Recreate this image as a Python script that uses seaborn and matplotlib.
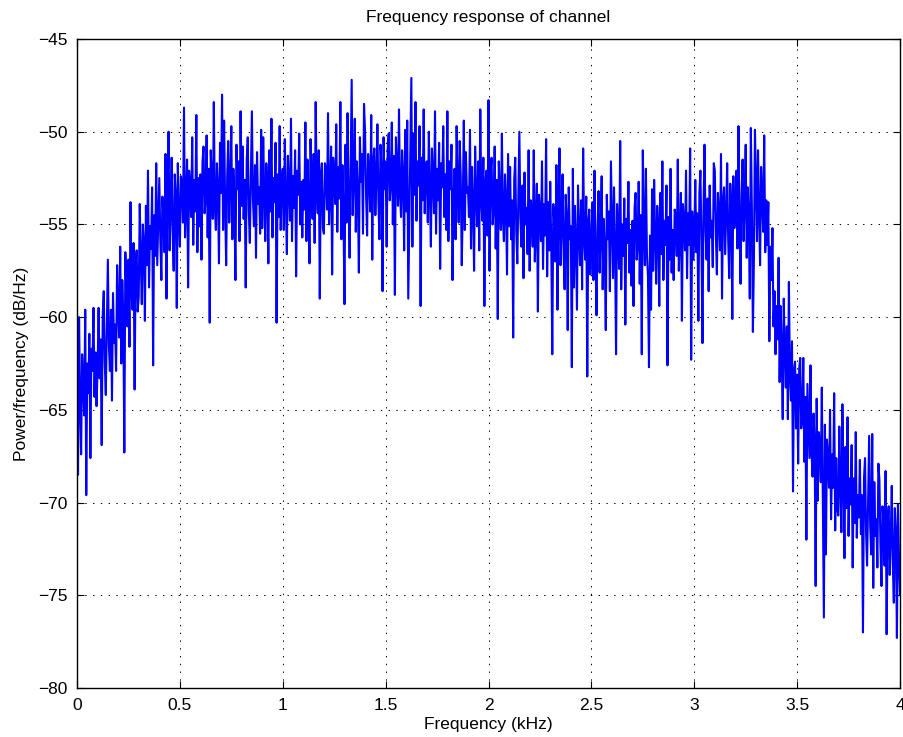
import numpy as np
import matplotlib
matplotlib.use("Agg")
import matplotlib.pyplot as plt
import seaborn as sns

# Power spectral density (dB/Hz), 801 samples spanning 0-4 kHz
psd_db = [
    -62.8, -68.5, -60.0, -64.6, -67.4, -62.0, -63.5, -65.3, -59.6, -69.6, -62.5, -64.1, -60.9, -67.6, -61.7, -62.9, -59.5, -64.3, -61.9, -64.8,
    -62.8, -59.5, -63.3, -61.2, -66.9, -59.9, -58.6, -62.5, -64.2, -60.4, -56.9, -61.5, -62.9, -59.6, -64.5, -58.7, -61.4, -60.4, -62.9, -57.2,
    -59.6, -61.1, -56.2, -62.5, -58.0, -60.0, -67.3, -56.5, -58.9, -60.5, -56.9, -61.6, -53.8, -58.6, -59.6, -56.0, -63.9, -57.1, -56.4, -59.7,
    -58.9, -53.9, -56.9, -59.3, -55.0, -56.0, -60.2, -54.0, -57.2, -52.1, -58.4, -55.1, -56.3, -53.0, -62.6, -54.5, -56.7, -51.7, -57.2, -54.8,
    -52.5, -55.8, -58.0, -53.5, -54.6, -56.5, -51.2, -59.0, -53.6, -50.0, -56.4, -54.3, -51.4, -55.5, -57.5, -52.3, -53.4, -59.5, -51.7, -54.5,
    -56.2, -52.4, -52.8, -54.9, -48.7, -55.7, -53.8, -51.5, -58.4, -52.1, -53.1, -54.6, -50.3, -56.1, -52.6, -54.3, -49.1, -56.5, -52.5, -55.1,
    -52.3, -56.9, -51.6, -50.8, -54.4, -53.6, -50.2, -55.7, -52.0, -60.3, -51.0, -52.7, -54.7, -48.4, -54.1, -55.3, -51.7, -53.1, -57.1, -50.6,
    -53.3, -48.0, -55.3, -49.4, -54.0, -57.2, -52.4, -50.5, -54.9, -52.8, -49.7, -55.8, -52.0, -53.7, -58.0, -50.7, -53.1, -51.6, -55.9, -48.9,
    -54.0, -50.8, -54.7, -52.6, -58.4, -51.5, -50.3, -54.3, -56.0, -52.3, -48.9, -53.6, -55.1, -51.8, -56.8, -51.1, -53.9, -53.0, -55.5, -49.9,
    -55.2, -50.3, -53.4, -55.9, -51.7, -52.8, -57.1, -51.0, -54.3, -49.3, -55.7, -52.5, -53.8, -50.6, -60.3, -52.3, -54.6, -49.7, -55.3, -53.0,
    -52.0, -55.3, -50.4, -53.7, -56.6, -51.3, -52.9, -54.8, -49.3, -55.9, -52.4, -54.1, -51.0, -57.8, -52.1, -53.4, -50.1, -55.0, -52.7, -55.7,
    -52.6, -54.2, -49.5, -55.9, -51.5, -53.6, -57.1, -50.4, -52.9, -54.7, -51.2, -56.0, -48.4, -53.3, -54.4, -51.0, -59.0, -52.3, -51.7, -55.2,
    -55.5, -51.7, -52.1, -54.2, -49.0, -55.0, -53.1, -50.8, -57.7, -51.4, -52.4, -53.9, -49.6, -55.4, -51.9, -53.6, -48.4, -55.8, -51.8, -54.4,
    -59.3, -50.7, -54.9, -49.0, -53.6, -56.8, -52.0, -47.2, -54.5, -52.4, -49.3, -55.4, -51.6, -53.3, -57.6, -50.3, -52.7, -51.2, -55.5, -48.5,
    -50.0, -53.4, -55.6, -51.2, -52.3, -54.3, -49.1, -56.9, -51.6, -50.9, -54.5, -52.5, -49.6, -53.8, -55.8, -50.7, -51.9, -58.6, -50.3, -53.1,
    -51.6, -56.2, -50.9, -50.1, -53.7, -52.9, -49.5, -55.0, -51.3, -58.8, -50.3, -52.0, -54.0, -48.8, -53.4, -54.6, -51.0, -52.4, -56.4, -49.9,
    -54.3, -49.4, -59.0, -55.0, -50.8, -47.1, -56.2, -50.1, -53.4, -48.4, -54.8, -51.6, -52.9, -49.7, -59.4, -51.4, -53.7, -48.8, -54.4, -52.1,
    -51.6, -54.9, -50.0, -53.3, -56.2, -50.9, -52.5, -54.4, -48.9, -55.5, -52.0, -53.7, -50.6, -57.4, -51.7, -53.0, -49.7, -54.6, -52.3, -55.3,
    -48.9, -55.9, -51.6, -53.1, -50.7, -58.0, -53.7, -52.0, -55.8, -49.7, -52.8, -54.9, -50.5, -52.4, -57.2, -54.0, -49.4, -55.3, -51.1, -53.3,
    -53.0, -54.6, -49.9, -56.3, -51.9, -54.0, -57.5, -50.8, -53.3, -55.1, -51.6, -56.4, -48.8, -53.7, -54.8, -51.4, -59.4, -52.7, -52.1, -55.6,
    -48.3, -57.5, -52.2, -51.4, -55.0, -54.2, -50.8, -56.3, -52.6, -60.1, -51.6, -53.3, -55.3, -50.1, -54.7, -55.9, -52.3, -53.7, -57.7, -51.2,
    -55.1, -51.9, -55.8, -53.7, -61.1, -52.6, -51.4, -55.4, -57.1, -53.4, -50.0, -54.7, -56.2, -52.9, -57.9, -52.2, -55.0, -54.1, -56.6, -51.0,
    -57.5, -53.7, -54.1, -56.2, -51.0, -57.0, -55.1, -52.8, -59.7, -53.4, -54.4, -55.9, -51.6, -57.4, -53.9, -55.6, -50.4, -57.8, -53.8, -56.4,
    -52.7, -56.1, -62.0, -53.9, -55.0, -57.0, -51.8, -59.6, -54.3, -50.9, -57.2, -55.2, -52.3, -56.5, -58.5, -53.4, -54.6, -60.7, -53.0, -55.8,
    -55.1, -62.7, -52.0, -58.4, -54.0, -56.1, -59.6, -52.9, -55.4, -57.2, -53.7, -58.5, -50.9, -55.8, -56.9, -53.5, -63.2, -54.8, -54.2, -57.7,
    -56.0, -53.8, -58.0, -52.1, -56.7, -59.9, -55.1, -53.2, -57.6, -55.5, -52.4, -58.5, -54.7, -56.4, -60.7, -53.4, -55.8, -54.3, -58.6, -51.6,
    -54.6, -57.9, -53.0, -56.3, -62.0, -53.9, -55.5, -57.4, -50.5, -58.5, -55.0, -56.7, -53.6, -60.4, -54.7, -56.0, -52.7, -57.6, -55.3, -58.3,
    -54.8, -59.4, -54.1, -53.3, -56.9, -56.1, -52.7, -58.2, -54.5, -62.0, -51.0, -55.2, -57.2, -52.0, -56.6, -57.8, -62.7, -55.6, -59.6, -53.1,
    -57.5, -52.6, -55.7, -58.2, -54.0, -55.1, -59.4, -53.3, -56.6, -51.6, -58.0, -54.8, -56.1, -52.9, -62.6, -54.6, -56.9, -52.0, -57.6, -55.3,
    -58.0, -54.2, -54.6, -56.7, -51.5, -57.5, -55.6, -53.3, -60.2, -53.9, -54.9, -56.4, -52.1, -57.9, -54.4, -56.1, -50.9, -62.3, -54.3, -56.9,
    -55.8, -52.6, -56.5, -54.4, -60.2, -53.3, -52.1, -56.1, -61.4, -54.1, -50.7, -55.4, -56.9, -53.6, -58.6, -52.9, -55.7, -54.8, -57.3, -51.7,
    -52.1, -55.5, -57.7, -53.3, -54.4, -56.4, -51.2, -59.0, -53.7, -53.0, -56.6, -54.6, -51.7, -55.9, -57.9, -52.8, -54.0, -60.1, -52.4, -55.2,
    -54.3, -52.1, -56.3, -49.7, -55.0, -58.2, -53.4, -51.5, -55.9, -53.8, -50.7, -56.8, -53.0, -54.7, -59.0, -49.8, -54.1, -60.8, -56.9, -49.9,
    -52.6, -55.9, -51.0, -54.3, -57.2, -51.9, -53.5, -55.4, -50.2, -56.5, -53.7, -56.1, -53.8, -61.3, -56.2, -58.0, -55.2, -60.5, -58.6, -62.0,
    -59.4, -61.2, -56.8, -63.5, -59.4, -61.8, -65.5, -59.0, -61.8, -63.8, -60.5, -65.5, -58.1, -63.2, -64.5, -61.3, -69.4, -62.8, -62.4, -66.0,
    -63.1, -67.9, -62.8, -62.2, -66.0, -65.4, -62.2, -67.8, -64.3, -72.0, -63.6, -65.5, -67.6, -62.6, -67.3, -68.6, -65.2, -66.7, -74.5, -64.4,
    -69.9, -66.2, -66.7, -68.9, -63.8, -69.8, -76.2, -65.8, -72.8, -66.6, -67.6, -69.2, -65.0, -70.9, -67.4, -69.2, -64.1, -71.5, -67.6, -70.3,
    -70.7, -65.9, -69.0, -71.6, -64.7, -68.6, -73.0, -67.0, -70.3, -65.4, -71.8, -68.7, -70.1, -66.9, -73.5, -68.7, -71.1, -66.2, -71.9, -69.6,
    -70.8, -67.7, -71.7, -69.6, -77.0, -68.7, -67.6, -71.6, -73.4, -69.8, -66.4, -71.2, -72.8, -66.3, -74.6, -68.9, -71.8, -70.9, -73.5, -67.9,
    -68.8, -72.3, -74.5, -70.2, -71.3, -73.4, -68.3, -77.1, -70.9, -70.2, -73.9, -71.9, -69.1, -73.3, -75.4, -70.3, -71.6, -77.3, -70.1, -73.0,
    -75.0,
]
freq_khz = np.linspace(0.0, 4.0, len(psd_db))

x_ticks = [0, 0.5, 1, 1.5, 2, 2.5, 3, 3.5, 4]
x_tick_labels = ["0", "0.5", "1", "1.5", "2", "2.5", "3", "3.5", "4"]
y_ticks = [-80, -75, -70, -65, -60, -55, -50, -45]

title = "Frequency response of channel"
x_label = "Frequency (kHz)"
y_label = "Power/frequency (dB/Hz)"

sns.set_style("white")
plt.rcParams["font.family"] = ["Liberation Sans", "DejaVu Sans"]
plt.rcParams["lines.scale_dashes"] = False

FS = 12.5
fig = plt.figure(figsize=(9.04, 7.37), dpi=100)
ax = fig.add_axes([77 / 904, 49 / 737, 823 / 904, 649 / 737])

sns.lineplot(x=freq_khz, y=psd_db, ax=ax, color="#0000ff", linewidth=1.5,
             estimator=None, sort=False, legend=False)

ax.set_xlim(0, 4)
ax.set_ylim(-80, -45)
ax.set_xticks(x_ticks)
ax.set_xticklabels(x_tick_labels)
ax.set_yticks(y_ticks)

ax.grid(True, color="black", linestyle=(0, (1.0, 4.6)), linewidth=0.7)
ax.set_axisbelow(True)

for s in ax.spines.values():
    s.set_visible(True)
    s.set_color("black")
    s.set_linewidth(1.0)

ax.tick_params(axis="both", which="both", direction="in", length=5, width=0.8,
               top=True, right=True, bottom=True, left=True,
               labelsize=FS, colors="black", pad=7)

ax.set_title(title, fontsize=FS, pad=12, color="black")
ax.set_xlabel(x_label, fontsize=FS, labelpad=3, color="black")
ax.set_ylabel(y_label, fontsize=FS, labelpad=6, color="black")

fig.savefig("out.png", dpi=100, facecolor="white")
